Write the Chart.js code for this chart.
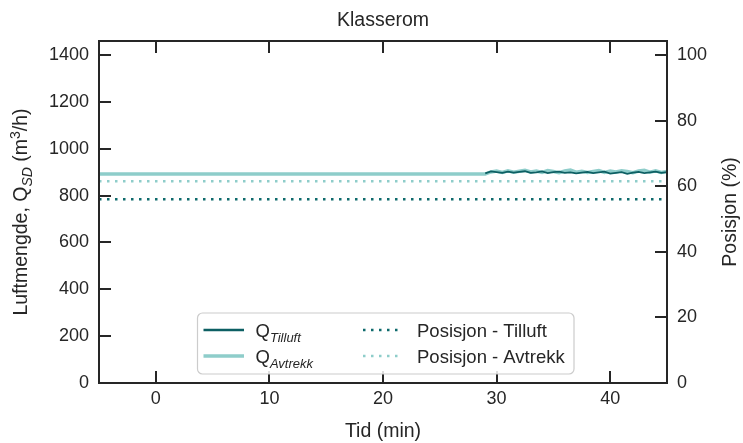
<!DOCTYPE html>
<html>
<head>
<meta charset="utf-8">
<script src="https://cdn.jsdelivr.net/npm/chart.js@4/dist/chart.umd.min.js"></script>
<style>
  html, body { margin: 0; padding: 0; background: #fff; }
</style>
</head>
<body>
<canvas id="graf" width="743" height="443"></canvas>
<script>
// Tid (min) for målte luftmengder
const tidAvtrekk = [-5, 29, 29.5, 30, 30.5, 31, 31.5, 32, 32.5, 33, 33.5, 34, 34.5, 35, 35.5, 36, 36.5,
                    37, 37.5, 38, 38.5, 39, 39.5, 40, 40.5, 41, 41.5, 42, 42.5, 43, 43.5, 44, 44.5, 45];
const qAvtrekk = [892, 892, 901, 905, 899, 906, 900, 904, 908, 901,
                  905, 899, 907, 903, 898, 905, 909, 900, 904, 899,
                  903, 907, 899, 905, 901, 906, 903, 898, 905, 908,
                  900, 906, 899, 903];
const tidTilluft = [29, 29.5, 30, 30.5, 31, 31.5, 32, 32.5, 33, 33.5, 34, 34.5, 35, 35.5, 36, 36.5,
                    37, 37.5, 38, 38.5, 39, 39.5, 40, 40.5, 41, 41.5, 42, 42.5, 43, 43.5, 44, 44.5, 45];
const qTilluft = [895, 903, 900, 897, 902, 898, 901, 904, 897, 899,
                  903, 896, 900, 902, 897, 899, 895, 898, 901, 896,
                  899, 902, 894, 897, 900, 893, 898, 901, 896, 899,
                  902, 897, 900];

// Spjeldposisjon (%)
const tidPos = [-5, 45];
const posTilluft = [56, 56];
const posAvtrekk = [61.5, 61.5];

// Akser
const xTicks = [0, 10, 20, 30, 40];
const yTicks = [0, 200, 400, 600, 800, 1000, 1200, 1400];
const y2Ticks = [0, 20, 40, 60, 80, 100];
const yMaks = 1460;

const FONT = "'Liberation Sans', Arial, sans-serif";
const TEKST = "#262626";
const MORK = "#0d5f63";
const LYS = "#8ecdca";

function punkter(xs, ys) {
    return xs.map((x, i) => ({ x: x, y: ys[i] }));
}

function fontFor(type, str) {
    if (type === "sub") return "italic " + Math.round(str * 0.72) + "px " + FONT;
    if (type === "sup") return Math.round(str * 0.72) + "px " + FONT;
    return str + "px " + FONT;
}
function breddeRik(ctx, deler, str) {
    let total = 0;
    deler.forEach(d => {
        ctx.font = fontFor(d[1], str);
        total += ctx.measureText(d[0]).width;
    });
    return total;
}
// deler = [tekst, type], type er "n", "sub" eller "sup"
function skrivRik(ctx, deler, str, x0, y0) {
    let x = x0;
    deler.forEach(d => {
        ctx.font = fontFor(d[1], str);
        let dy = 0;
        if (d[1] === "sub") dy = str * 0.28;
        if (d[1] === "sup") dy = -str * 0.38;
        ctx.fillText(d[0], x, y0 + dy);
        x += ctx.measureText(d[0]).width;
    });
}

const rammePlugin = {
    id: "ramme",
    afterDraw(chart) {
        const ctx = chart.ctx;
        const a = chart.chartArea;
        const sx = chart.scales.x, sy = chart.scales.y, sy2 = chart.scales.y2;
        const tl = 12;
        ctx.save();
        ctx.strokeStyle = TEKST;
        ctx.lineWidth = 2;
        ctx.beginPath();
        xTicks.forEach(v => {
            const px = Math.round(sx.getPixelForValue(v));
            ctx.moveTo(px, a.bottom); ctx.lineTo(px, a.bottom - tl);
            ctx.moveTo(px, a.top); ctx.lineTo(px, a.top + tl);
        });
        yTicks.forEach(v => {
            const py = Math.round(sy.getPixelForValue(v));
            ctx.moveTo(a.left, py); ctx.lineTo(a.left + tl, py);
        });
        y2Ticks.forEach(v => {
            const py = Math.round(sy2.getPixelForValue(v));
            ctx.moveTo(a.right, py); ctx.lineTo(a.right - tl, py);
        });
        ctx.stroke();
        ctx.strokeRect(a.left, a.top, a.right - a.left, a.bottom - a.top);

        // Tittel og aksetitler
        ctx.fillStyle = TEKST;
        ctx.textBaseline = "alphabetic";
        ctx.textAlign = "center";
        ctx.font = "19.5px " + FONT;
        const midtX = (a.left + a.right) / 2;
        const midtY = (a.top + a.bottom) / 2;
        ctx.fillText("Klasserom", midtX, 26);
        ctx.fillText("Tid (min)", midtX, 437);

        ctx.save();
        ctx.translate(735.5, midtY);
        ctx.rotate(-Math.PI / 2);
        ctx.fillText("Posisjon (%)", 0, 0);
        ctx.restore();

        const yTittel = [["Luftmengde, Q", "n"], ["SD", "sub"], [" (m", "n"], ["3", "sup"], ["/h)", "n"]];
        ctx.save();
        ctx.textAlign = "left";
        ctx.translate(27, midtY);
        ctx.rotate(-Math.PI / 2);
        const total = breddeRik(ctx, yTittel, 19.5);
        skrivRik(ctx, yTittel, 19.5, -total / 2, 0);
        ctx.restore();

        // Forklaring
        const bx = 197.5, by = 313, bw = 376.5, bh = 61, r = 5;
        ctx.beginPath();
        ctx.moveTo(bx + r, by);
        ctx.arcTo(bx + bw, by, bx + bw, by + bh, r);
        ctx.arcTo(bx + bw, by + bh, bx, by + bh, r);
        ctx.arcTo(bx, by + bh, bx, by, r);
        ctx.arcTo(bx, by, bx + bw, by, r);
        ctx.closePath();
        ctx.fillStyle = "rgba(255,255,255,0.85)";
        ctx.fill();
        ctx.strokeStyle = "#cccccc";
        ctx.lineWidth = 1.2;
        ctx.stroke();

        const rader = [330, 356];
        ctx.lineWidth = 2.5;
        ctx.strokeStyle = MORK;
        ctx.beginPath(); ctx.moveTo(203.5, rader[0]); ctx.lineTo(244, rader[0]); ctx.stroke();
        ctx.strokeStyle = LYS;
        ctx.lineWidth = 3.5;
        ctx.beginPath(); ctx.moveTo(203.5, rader[1]); ctx.lineTo(244, rader[1]); ctx.stroke();
        ctx.lineWidth = 2.5;
        ctx.setLineDash([2.5, 5.5]);
        ctx.strokeStyle = "#0e6a6c";
        ctx.beginPath(); ctx.moveTo(363, rader[0]); ctx.lineTo(402, rader[0]); ctx.stroke();
        ctx.strokeStyle = LYS;
        ctx.beginPath(); ctx.moveTo(363, rader[1]); ctx.lineTo(402, rader[1]); ctx.stroke();
        ctx.setLineDash([]);

        ctx.fillStyle = TEKST;
        ctx.textAlign = "left";
        skrivRik(ctx, [["Q", "n"], ["Tilluft", "sub"]], 18.5, 255.5, rader[0] + 7);
        skrivRik(ctx, [["Q", "n"], ["Avtrekk", "sub"]], 18.5, 255.5, rader[1] + 7);
        ctx.font = "18.5px " + FONT;
        ctx.fillText("Posisjon - Tilluft", 417, rader[0] + 7);
        ctx.fillText("Posisjon - Avtrekk", 417, rader[1] + 7);
        ctx.restore();
    }
};

const tickFont = { family: FONT, size: 18 };
const rentTall = v => String(v);

new Chart(document.getElementById("graf").getContext("2d"), {
    type: "line",
    data: {
        datasets: [
            {
                label: "Posisjon - Avtrekk",
                data: punkter(tidPos, posAvtrekk),
                yAxisID: "y2",
                borderColor: LYS,
                borderWidth: 2.5,
                borderDash: [2.5, 5.5],
                pointRadius: 0,
                order: 0
            },
            {
                label: "Posisjon - Tilluft",
                data: punkter(tidPos, posTilluft),
                yAxisID: "y2",
                borderColor: "#0e6a6c",
                borderWidth: 2.5,
                borderDash: [2.5, 5.5],
                pointRadius: 0,
                order: 1
            },
            {
                label: "Q Tilluft",
                data: punkter(tidTilluft, qTilluft),
                yAxisID: "y",
                borderColor: MORK,
                borderWidth: 1.8,
                pointRadius: 0,
                order: 2
            },
            {
                label: "Q Avtrekk",
                data: punkter(tidAvtrekk, qAvtrekk),
                yAxisID: "y",
                borderColor: LYS,
                borderWidth: 3.5,
                pointRadius: 0,
                order: 3
            }
        ]
    },
    options: {
        responsive: false,
        animation: false,
        devicePixelRatio: 1,
        layout: { padding: { top: 41, left: 0, right: 0, bottom: 0 } },
        plugins: {
            legend: { display: false },
            title: { display: false },
            tooltip: { enabled: false }
        },
        scales: {
            x: {
                type: "linear",
                min: -5,
                max: 45,
                grid: { display: false, drawTicks: false },
                border: { display: false },
                ticks: { font: tickFont, color: TEKST, padding: 5, maxRotation: 0, callback: rentTall },
                afterBuildTicks(s) { s.ticks = xTicks.map(v => ({ value: v })); },
                afterFit(s) { s.height = 60; }
            },
            y: {
                position: "left",
                min: 0,
                max: yMaks,
                grid: { display: false, drawTicks: false },
                border: { display: false },
                ticks: { font: tickFont, color: TEKST, padding: 10, callback: rentTall },
                afterBuildTicks(s) { s.ticks = yTicks.map(v => ({ value: v })); },
                afterFit(s) { s.width = 99; }
            },
            y2: {
                position: "right",
                min: 0,
                max: yMaks / 14,
                grid: { display: false, drawTicks: false },
                border: { display: false },
                ticks: { font: tickFont, color: TEKST, padding: 10, callback: rentTall },
                afterBuildTicks(s) { s.ticks = y2Ticks.map(v => ({ value: v })); },
                afterFit(s) { s.width = 76; }
            }
        }
    },
    plugins: [rammePlugin]
});
</script>
</body>
</html>
